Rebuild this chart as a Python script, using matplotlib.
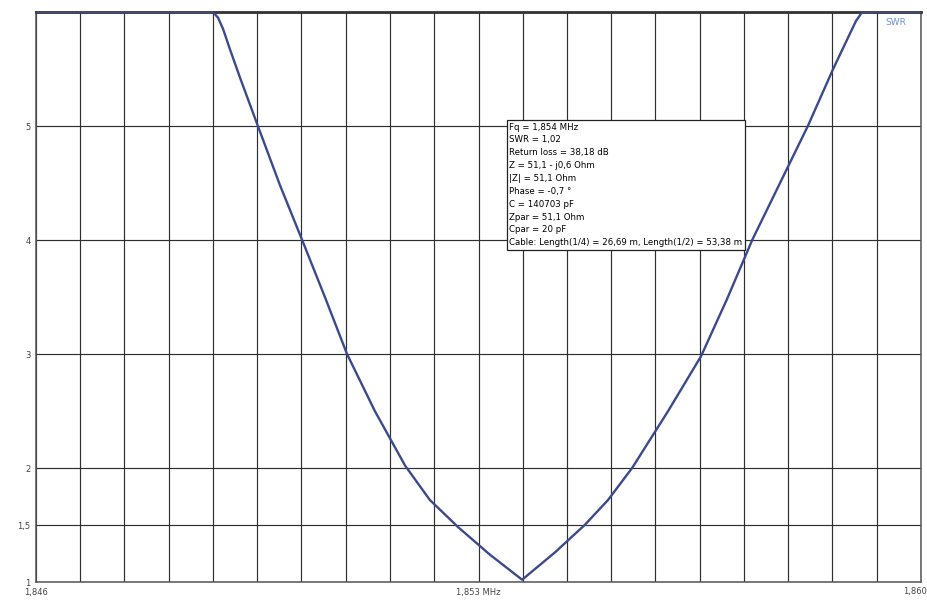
import numpy as np
import matplotlib
matplotlib.use("Agg")
import matplotlib.pyplot as plt

# sweep 1.846 .. 1.860 MHz, SWR clipped at 6
freq_mhz = [1.84600, 1.84880, 1.84888, 1.84896, 1.84907, 1.84923, 1.84951,
            1.84986, 1.85021, 1.85057, 1.85092, 1.85136, 1.85184, 1.85223,
            1.85268, 1.85318, 1.85369,
            1.85421, 1.85468, 1.85505, 1.85543, 1.85600, 1.85652, 1.85693,
            1.85733, 1.85777, 1.85821, 1.85861, 1.85885, 1.85897, 1.85907,
            1.86000]
swr = [6.0, 6.0, 5.95, 5.85, 5.67, 5.42, 5.0,
       4.48, 4.0, 3.5, 3.0, 2.5, 2.02, 1.72,
       1.48, 1.24, 1.02,
       1.26, 1.5, 1.72, 2.0, 2.5, 2.98, 3.48,
       4.0, 4.5, 5.0, 5.5, 5.78, 5.92, 6.0,
       6.0]

f_min, f_max = 1.846, 1.860
x_grid = np.linspace(f_min, f_max, 21)
x_labels = ["1,846"] + [""] * 9 + ["1,853 MHz"] + [""] * 10
y_ticks = [1, 1.5, 2, 3, 4, 5, 6]
y_labels = ["1", "1,5", "2", "3", "4", "5", ""]

info = ("Fq = 1,854 MHz\n"
        "SWR = 1,02\n"
        "Return loss = 38,18 dB\n"
        "Z = 51,1 - j0,6 Ohm\n"
        "|Z| = 51,1 Ohm\n"
        "Phase = -0,7 \u00b0\n"
        "C = 140703 pF\n"
        "Zpar = 51,1 Ohm\n"
        "Cpar = 20 pF\n"
        "Cable: Length(1/4) = 26,69 m, Length(1/2) = 53,38 m")

fig = plt.figure(figsize=(9.28, 6.0), dpi=100)
ax = fig.add_axes([36 / 928, 18 / 600, 885 / 928, 570 / 600])

ax.plot(freq_mhz, swr, color="#3b4a8c", lw=1.7, solid_joinstyle="round",
        solid_capstyle="round", zorder=3)

ax.set_xlim(f_min, f_max)
ax.set_ylim(1, 6)
ax.set_xticks(x_grid)
ax.set_xticklabels(x_labels, fontsize=6, color="#444444")
ax.set_yticks(y_ticks)
ax.set_yticklabels(y_labels, fontsize=6, color="#444444")
ax.tick_params(length=0, pad=4)
ax.grid(True, color="#2e2e2e", lw=0.85)
ax.set_axisbelow(True)

# right end label sits at the figure edge in the original
fig.text(927 / 928, 1 - 596 / 600, "1,860", fontsize=6, color="#444444",
         ha="right", va="bottom")

for side in ["left", "bottom", "right"]:
    ax.spines[side].set_color("#555555")
    ax.spines[side].set_linewidth(1.1)
ax.spines["top"].set_color("#333333")
ax.spines["top"].set_linewidth(2.0)

ax.text(0.535, 0.806, info, transform=ax.transAxes, fontsize=6.2,
        family="DejaVu Sans", va="top", ha="left", linespacing=1.55,
        bbox=dict(boxstyle="square,pad=0.3", fc="white", ec="#222222", lw=0.9),
        zorder=4)

ax.text(0.983, 0.99, "SWR", transform=ax.transAxes, fontsize=6.5,
        color="#6f8fd0", ha="right", va="top")

fig.savefig("out.png", dpi=100)
